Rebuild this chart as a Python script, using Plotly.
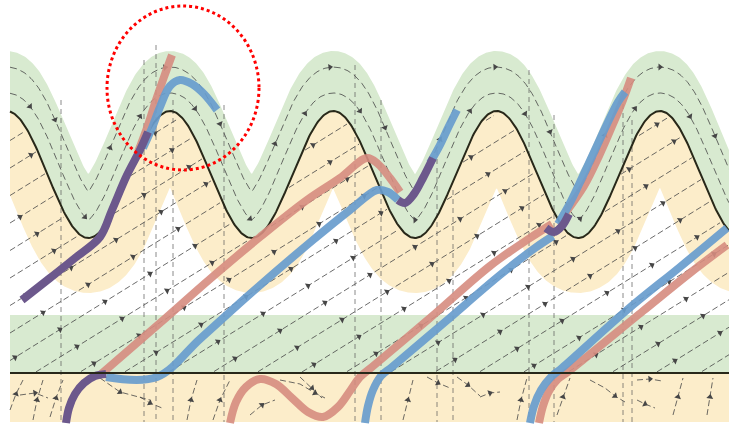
import numpy as np
import plotly.graph_objects as go

# ---------------- data (pixel-space diagram coordinates) ----------------
W, H = 729, 429
x_left, x_right = 10, 729

# black sinusoidal boundary
wave_mid_y = 174.5
wave_amp = 63.5
wave_period = 163.3
wave_peak_x = 170.0

line_y = 373          # horizontal black boundary
band_top_y = 315      # top of horizontal green band
bottom_y = 422        # bottom of yellow band

# green band above the wave: stroke of radius r around wave shifted up by s
green_shift, green_radius = 40, 20
# yellow band below the wave: stroke of radius r around wave shifted down by s
yellow_shift, yellow_radius = 20, 35

# straight streamlines
stream_slope = -0.62
stream_c0 = 366.7
stream_gap = 27.5
stream_k = list(range(-10, 19))

# curved streamlines above wave: (shift, radius)
curved_shift = [6, 26]
curved_radius = [12, 18]

# vertical dashed guides
vlines_x = [61, 144, 156, 173, 224, 355, 381, 437, 453, 529, 554, 623, 632]
vlines_top = [100, 60, 45, 100, 105, 65, 100, 150, 190, 70, 115, 95, 120]

# trajectories
t1_purple_x = [22, 50, 75, 100, 112, 127, 140, 148]
t1_purple_y = [300, 278, 258, 237, 210, 175, 150, 132]
t1_red_x = [138, 148, 156, 164, 172]
t1_red_y = [152, 125, 100, 77, 55]
t1_blue_x = [143, 152, 160, 170, 180, 192, 204, 217]
t1_blue_y = [148, 128, 107, 86, 80, 84, 94, 110]

t2_purple_low_x = [66, 69, 75, 84, 95, 106]
t2_purple_low_y = [423, 408, 394, 383, 376, 374]
t2_red_x = [100, 160, 210, 260, 307, 340, 367, 378, 390, 400]
t2_red_y = [375, 323, 279, 237, 200, 178, 158, 164, 178, 192]
t2_blue_x = [106, 157, 200, 250, 313, 350, 377, 388, 398]
t2_blue_y = [377, 377, 339, 294, 240, 210, 190, 192, 200]
t2_purple_x = [398, 405, 414, 423, 433]
t2_purple_y = [200, 203, 194, 178, 158]
t2_blue_top_x = [430, 440, 448, 457]
t2_blue_top_y = [163, 145, 128, 110]

t3_red_x = [230, 236, 246, 260, 276, 292, 308, 323, 338, 350, 360, 372, 430, 490, 530, 552]
t3_red_y = [423, 402, 387, 379, 384, 398, 412, 417, 407, 391, 377, 367, 318, 266, 238, 224]
t3_blue_x = [365, 368, 373, 381, 392, 445, 500, 535, 553]
t3_blue_y = [423, 406, 390, 376, 367, 322, 275, 248, 236]
t3_purple_x = [546, 554, 562, 569]
t3_purple_y = [228, 232, 226, 214]
t3_red_top_x = [566, 584, 599, 613, 623, 631]
t3_red_top_y = [212, 186, 156, 124, 100, 78]
t3_blue_top_x = [558, 570, 582, 595, 607, 618, 625]
t3_blue_top_y = [224, 203, 178, 150, 124, 102, 92]

t4_red_x = [539, 543, 549, 558, 569, 643, 690, 727]
t4_red_y = [423, 406, 391, 379, 371, 311, 273, 245]
t4_blue_x = [530, 534, 541, 551, 562, 627, 680, 727]
t4_blue_y = [423, 406, 390, 377, 368, 310, 267, 228]

# short streamlines inside the bottom band
bottom_curves_x = [
    [10, 16, 23], [33, 37, 43], [50, 56, 63], [100, 110, 120, 135, 150],
    [140, 150, 162], [187, 191, 197], [213, 220, 230], [280, 300, 315, 325],
    [300, 312, 322], [403, 408, 413], [427, 438, 450], [457, 468, 480],
    [480, 490, 500], [517, 521, 527], [557, 563, 570], [590, 605, 615, 625],
    [637, 650, 662], [637, 645, 655], [673, 678, 683], [707, 710, 713],
    [250, 262, 275], [20, 35, 48],
]
bottom_curves_y = [
    [410, 394, 380], [420, 400, 380], [417, 398, 380], [378, 385, 392, 396, 400],
    [397, 403, 408], [420, 400, 380], [420, 400, 380], [380, 384, 393, 398],
    [377, 388, 398], [420, 400, 380], [377, 383, 388], [377, 385, 396],
    [397, 393, 392], [420, 400, 378], [415, 397, 378], [380, 388, 396, 402],
    [380, 379, 381], [400, 404, 408], [415, 397, 378], [415, 397, 378],
    [415, 405, 400], [395, 393, 398],
]

# red dotted highlight circle
circle_box = [107, 6, 259, 170]

# colours
GREEN = "rgb(216,234,208)"
YELLOW = "rgb(252,237,202)"
RED = "rgba(214,140,128,0.9)"
BLUE = "rgba(104,156,205,0.92)"
PURPLE = "rgb(108,88,140)"
STREAM = "rgba(70,70,70,0.8)"

# ---------------- geometry helpers ----------------
def wave(x):
    return wave_mid_y - wave_amp * np.cos(2 * np.pi * (np.asarray(x) - wave_peak_x) / wave_period)

xs = np.arange(x_left, x_right + 0.5, 1.0)
ps = np.arange(x_left - 90, x_right + 90, 0.5)
bp = wave(ps)
bx = wave(xs)


def envelope(shift, r, upper):
    out = np.empty_like(xs)
    for i, x in enumerate(xs):
        m = np.abs(ps - x) <= r
        h = np.sqrt(np.maximum(r * r - (ps[m] - x) ** 2, 0))
        if upper:
            out[i] = np.min(bp[m] - shift - h)
        else:
            out[i] = np.max(bp[m] + shift + h)
    return out


def segs(x, y, mask):
    X, Y = [], []
    prev = False
    for xi, yi, m in zip(x, y, mask):
        if m:
            X.append(float(xi)); Y.append(float(yi))
        elif prev:
            X.append(None); Y.append(None)
        prev = m
    return X, Y


def bearing(dx, dy):
    return float(np.degrees(np.arctan2(dx, -dy)))


fig = go.Figure()

# background bands
fig.add_trace(go.Scatter(x=[x_left, x_right, x_right, x_left], y=[band_top_y, band_top_y, line_y, line_y],
                         fill="toself", fillcolor=GREEN, line=dict(width=0), mode="lines", hoverinfo="skip"))
fig.add_trace(go.Scatter(x=[x_left, x_right, x_right, x_left], y=[line_y, line_y, bottom_y, bottom_y],
                         fill="toself", fillcolor=YELLOW, line=dict(width=0), mode="lines", hoverinfo="skip"))

# yellow band under the wave, green band above it
low = np.maximum(envelope(yellow_shift, yellow_radius, upper=False), bx)
up = np.minimum(envelope(green_shift, green_radius, upper=True), bx)
fig.add_trace(go.Scatter(x=np.concatenate([xs, xs[::-1]]), y=np.concatenate([bx, low[::-1]]),
                         fill="toself", fillcolor=YELLOW, line=dict(width=0), mode="lines", hoverinfo="skip"))
fig.add_trace(go.Scatter(x=np.concatenate([xs, xs[::-1]]), y=np.concatenate([up, bx[::-1]]),
                         fill="toself", fillcolor=GREEN, line=dict(width=0), mode="lines", hoverinfo="skip"))

# straight streamlines
SX, SY, AX, AY, AA = [], [], [], [], []
ang_straight = bearing(1, stream_slope)
for k in stream_k:
    c = stream_c0 + stream_gap * k
    y = c + stream_slope * xs
    m = (y > bx + 4) & (y < line_y - 1) & (y > 2)
    X, Y = segs(xs, y, m)
    SX += X + [None]; SY += Y + [None]
    start = 15 + (k * 17) % 45
    for ax in np.arange(start, x_right, 45):
        ay = c + stream_slope * ax
        if ay > wave(ax) + 8 and ay < line_y - 4:
            AX.append(float(ax)); AY.append(float(ay)); AA.append(ang_straight)
fig.add_trace(go.Scatter(x=SX, y=SY, mode="lines", line=dict(color=STREAM, width=1, dash="6px,3px"),
                         hoverinfo="skip"))

# curved streamlines above the wave
for j, (s, r) in enumerate(zip(curved_shift, curved_radius)):
    cy = envelope(s, r, upper=True)
    fig.add_trace(go.Scatter(x=xs, y=cy, mode="lines", line=dict(color=STREAM, width=1, dash="7px,4px"),
                             hoverinfo="skip"))
    g = np.gradient(cy)
    for i in range(20 + j * 25, len(xs) - 3, 55):
        AX.append(float(xs[i])); AY.append(float(cy[i])); AA.append(bearing(1, g[i]))

# bottom band streamlines
BX, BY = [], []
for cx, cyy in zip(bottom_curves_x, bottom_curves_y):
    BX += cx + [None]; BY += cyy + [None]
    mid = len(cx) // 2
    AX.append(float(cx[mid])); AY.append(float(cyy[mid]))
    AA.append(bearing(cx[mid] - cx[mid - 1], cyy[mid] - cyy[mid - 1]))
fig.add_trace(go.Scatter(x=BX, y=BY, mode="lines", line=dict(color=STREAM, width=1, dash="6px,3px"),
                         hoverinfo="skip"))

# vertical dashed guides
VX, VY = [], []
for vx, vt in zip(vlines_x, vlines_top):
    VX += [vx, vx, None]; VY += [vt, bottom_y, None]
fig.add_trace(go.Scatter(x=VX, y=VY, mode="lines", line=dict(color="rgba(90,90,90,0.7)", width=1, dash="5px,4px"),
                         hoverinfo="skip"))

# arrow heads
fig.add_trace(go.Scatter(x=AX, y=AY, mode="markers",
                         marker=dict(symbol="triangle-up", size=6, angle=AA, color="rgb(70,70,70)"),
                         hoverinfo="skip"))

# black wave boundary
fig.add_trace(go.Scatter(x=xs, y=bx, mode="lines", line=dict(color="rgb(40,40,25)", width=2), hoverinfo="skip"))

# trajectories
def traj(x, y, color, width=8):
    fig.add_trace(go.Scatter(x=x, y=y, mode="lines", line=dict(color=color, width=width, shape="spline"),
                             hoverinfo="skip"))

traj(t1_red_x, t1_red_y, RED)
traj(t1_blue_x, t1_blue_y, BLUE)
traj(t1_purple_x, t1_purple_y, PURPLE)
traj(t2_red_x, t2_red_y, RED)
traj(t2_blue_x, t2_blue_y, BLUE)
traj(t2_purple_low_x, t2_purple_low_y, PURPLE)
traj(t2_blue_top_x, t2_blue_top_y, BLUE)
traj(t2_purple_x, t2_purple_y, PURPLE)
traj(t3_red_x, t3_red_y, RED)
traj(t3_blue_x, t3_blue_y, BLUE)
traj(t3_red_top_x, t3_red_top_y, RED)
traj(t3_blue_top_x, t3_blue_top_y, BLUE)
traj(t3_purple_x, t3_purple_y, PURPLE)
traj(t4_red_x, t4_red_y, RED)
traj(t4_blue_x, t4_blue_y, BLUE)

# horizontal black boundary
fig.add_trace(go.Scatter(x=[x_left, x_right], y=[line_y, line_y], mode="lines",
                         line=dict(color="rgb(40,40,25)", width=2), hoverinfo="skip"))

fig.add_shape(type="circle", xref="x", yref="y",
              x0=circle_box[0], y0=circle_box[1], x1=circle_box[2], y1=circle_box[3],
              line=dict(color="red", width=3, dash="dot"))

fig.update_layout(
    width=W, height=H, margin=dict(l=0, r=0, t=0, b=0),
    paper_bgcolor="white", plot_bgcolor="white", showlegend=False,
    xaxis=dict(range=[0, W], visible=False, fixedrange=True),
    yaxis=dict(range=[H, 0], visible=False, fixedrange=True),
)

fig.write_html("out.html", config={"displayModeBar": False})
